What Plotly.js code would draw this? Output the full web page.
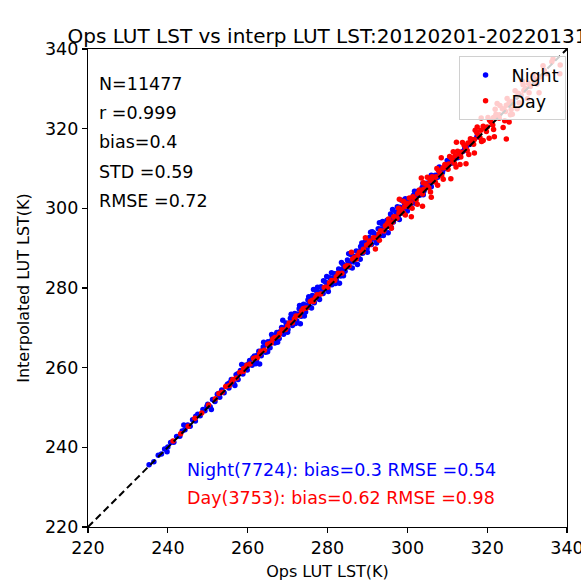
<!DOCTYPE html>
<html>
<head>
<meta charset="utf-8">
<script src="https://cdn.plot.ly/plotly-3.0.1.min.js"></script>
<style>html,body{margin:0;padding:0;background:#fff;}#chart{width:581px;height:581px;}</style>
</head>
<body>
<div id="chart"></div>
<script>
// ---------- data ----------
const nightX = [235.3,236.5,237.6,238.4,239.2,240.0,240.7,241.5,242.2,243.0,243.6,244.3,245.0,245.6,246.2,246.9,247.5,248.1,248.8,249.3,250.0,250.6,251.2,251.8,252.4,253.0,253.5,254.1,254.8,255.3,255.9,256.5,257.1,257.6,258.2,258.8,259.4,259.9,260.5,261.1,261.7,262.2,262.8,263.4,263.9,264.5,265.1,265.6,266.2,266.8,267.3,267.9,268.5,269.0,269.6,270.1,270.7,271.2,271.8,272.3,272.9,273.4,274.0,274.5,275.1,275.6,276.2,276.7,277.3,277.8,278.4,278.9,279.5,280.0,280.6,281.1,281.7,282.2,282.8,283.3,283.9,284.4,285.0,285.5,286.1,286.6,287.2,287.7,288.3,288.8,289.4,289.9,290.5,291.0,291.6,292.1,292.7,293.2,293.8,294.3,294.9,295.4,296.0,296.5,297.1,297.6,298.2,298.7,299.3,299.8,300.4,300.9,301.5,302.0,302.6,303.1,303.7,304.2,304.8,305.3,305.9,306.4,307.0,307.6,308.2,308.8,309.4,310.0,310.7,311.3,312.0,312.6,313.3,314.0,314.8,315.6,316.5,317.4,
  247.0,249.8,252.7,255.5,258.0,260.2,262.5,264.8,266.5,268.1,269.3,270.4,271.5,272.6,273.7,274.8,275.9,277.0,278.1,279.2,280.3,281.4,282.5,283.6,284.7,285.8,286.9,288.0,289.1,290.2,291.3,292.4,293.5,294.6,295.7,296.8,297.9,299.0,300.1,301.2,302.3,303.4,304.5,305.6,306.7,307.9,309.1,310.4,311.7,313.0,314.4,315.9,
  258.5,263.0,268.8,273.2,276.5,279.8,283.0,285.3,287.5,290.8,293.0,295.2,296.3,298.5,244.0,250.9,256.8,239.8,
  262.0,265.0,267.5,270.0,272.0,274.2,276.0,278.0,280.2,282.0,284.0,286.2,288.2,290.0,292.3,294.0,296.0,298.0,300.0,302.0,304.0,306.0,
  264.0,266.0,270.9,273.0,275.3,277.5,279.0,281.0,283.5,285.8,288.6,291.2,293.8,295.8,297.5,299.5,301.8,303.9,306.0,308.0,310.0,
  255.0,257.5,260.0,261.3,263.7,266.0,267.0,269.8,271.0,272.2,274.5,275.5,276.8,278.7,279.9,281.3,282.3,284.2,285.2,287.0,288.4,289.6,290.9,292.0,293.3,294.8,296.2,297.3,298.8,300.6,302.1,303.3];
const nightY = [235.6,236.4,238.0,238.3,239.6,240.1,241.2,241.3,242.7,242.8,244.1,244.4,245.6,245.3,246.9,246.6,248.3,247.9,249.5,249.2,250.8,250.2,252.0,251.5,253.3,252.6,254.4,253.7,255.6,254.9,257.0,256.1,258.2,257.0,259.3,258.4,260.6,259.4,261.8,260.6,262.9,261.8,264.1,263.0,265.2,263.9,266.5,265.0,267.7,266.2,268.8,267.3,270.1,268.4,271.2,269.6,272.4,270.6,273.6,271.8,274.8,272.9,275.9,274.0,277.0,275.2,278.1,276.3,279.2,277.5,280.3,278.6,281.5,279.7,282.6,280.8,283.6,282.0,284.8,283.0,285.9,284.2,287.0,285.3,288.2,286.5,289.3,287.6,290.4,288.7,291.6,289.9,292.7,290.9,293.8,292.1,294.9,293.2,296.0,294.3,297.0,295.5,298.1,296.6,299.1,297.7,300.3,298.8,301.3,300.0,302.3,301.1,303.2,302.2,304.3,303.3,305.2,304.4,306.3,305.6,307.2,306.7,308.3,307.8,309.4,309.0,310.5,310.2,311.6,311.4,312.9,312.7,314.1,314.3,315.6,316.0,317.2,317.9,
  247.8,250.3,253.5,256.2,258.6,261.0,263.2,265.8,267.0,269.0,270.0,271.2,272.0,273.5,274.5,275.4,276.9,277.8,279.0,280.1,281.0,282.4,283.3,284.6,285.6,286.5,287.9,288.8,290.2,291.1,292.3,293.3,294.6,295.5,296.8,297.6,298.9,299.8,301.0,302.1,303.1,304.3,305.2,306.5,307.4,308.6,309.8,311.0,312.4,313.6,315.1,316.6,
  260.8,260.9,271.9,271.0,279.6,282.9,281.2,288.6,285.9,294.0,296.4,293.9,299.7,302.0,245.6,249.5,255.5,238.9,
  261.0,264.0,266.4,268.9,271.1,273.0,275.0,277.1,279.1,281.1,283.1,285.0,287.2,289.0,291.3,293.2,295.1,297.2,299.3,301.3,303.4,305.4,
  266.4,268.3,273.4,275.6,277.8,280.2,281.8,283.8,286.4,288.5,291.3,294.1,296.7,298.6,300.4,302.4,304.3,306.3,308.3,310.4,312.0,
  255.9,258.5,260.5,262.5,264.3,266.8,268.2,270.5,272.3,273.2,275.7,276.4,277.9,279.5,281.0,282.0,283.6,285.0,286.4,287.8,289.7,290.4,292.2,292.8,294.8,295.6,297.6,298.1,300.2,301.5,303.3,304.0];

const dayX = [241.3,243.2,245.1,246.8,248.5,250.2,251.9,252.8,253.6,254.5,255.4,256.3,257.2,258.0,258.9,259.8,260.6,261.5,262.4,263.3,264.2,265.0,265.9,266.8,267.7,268.6,269.5,270.4,271.2,272.1,273.0,273.9,274.8,275.7,276.5,277.4,278.3,279.2,280.1,281.0,281.8,282.7,283.6,284.5,285.4,286.3,287.2,288.0,288.9,289.8,290.7,291.5,292.4,293.3,294.1,295.0,295.8,296.6,297.4,298.2,299.0,299.8,300.6,301.4,302.2,303.0,303.8,304.6,305.4,306.2,307.0,307.8,308.6,309.4,310.2,311.0,311.8,312.6,313.4,314.2,315.0,315.8,316.6,317.4,318.2,319.0,319.8,320.6,321.4,322.2,323.0,323.8,324.6,325.5,326.4,327.4,328.5,329.6,330.8,332.0,333.2,334.3,
  262.0,265.5,268.0,271.7,274.3,277.0,279.6,282.2,284.9,287.6,290.2,292.9,295.5,297.0,298.6,300.2,301.8,303.4,305.0,306.6,308.2,309.8,311.4,313.0,314.6,316.2,317.8,319.4,321.0,322.6,324.2,
  298.0,301.0,303.5,306.0,308.5,310.9,312.3,314.7,316.8,318.5,320.5,321.8,322.5,324.0,325.5,326.3,327.5,324.8,328.8,330.1,289.5,292.0,286.0,303.8,338.2,338.3,336.5,333.0,
  290.5,293.0,295.3,296.0,297.8,299.5,300.5,302.5,304.0,305.8,307.4,309.0,310.6,312.2,313.8,315.4,317.0,318.6,320.2,321.6,323.2,324.4,325.0,326.0,327.0,328.0,329.0,330.5,331.5,332.5,334.0,335.0,336.2,
  256.0,259.0,263.0,266.3,270.0,273.5,276.2,280.5,283.0,286.7,289.0,
  294.5,296.3,297.9,299.3,300.9,302.6,304.1,305.7,307.2,308.9,310.4,312.0,313.6,315.2,316.8,318.4,320.0,321.6,323.1,324.8,326.0,327.8,329.2,330.3,331.7,
  299.0,301.2,305.0,307.6,311.5,313.2,317.5,319.0,322.0,325.8];
const dayY = [241.6,243.4,245.3,247.3,248.6,250.6,252.2,253.5,253.8,255.3,255.5,257.0,257.4,258.8,259.1,260.6,260.9,262.3,262.5,264.1,264.4,265.9,266.2,267.6,267.9,269.5,269.6,271.2,271.3,273.0,273.1,274.8,275.0,276.6,276.6,278.3,278.5,280.1,280.2,281.9,281.9,283.7,283.7,285.4,285.5,287.2,287.3,289.0,289.1,290.8,290.9,292.6,292.6,294.4,294.3,296.2,295.9,297.9,297.5,299.7,298.9,301.3,300.4,302.9,302.1,304.6,303.6,306.2,305.1,307.9,306.6,309.5,308.2,311.0,309.8,312.7,311.3,314.3,312.9,315.9,314.5,317.5,316.1,319.0,317.7,320.6,319.3,322.1,320.9,323.6,322.6,325.0,324.3,326.5,326.2,328.0,328.4,330.1,330.6,332.5,333.0,334.6,
  262.5,266.0,268.6,272.2,274.9,277.6,280.2,282.8,285.6,288.2,290.9,293.6,296.1,297.8,299.3,300.9,302.5,304.1,305.6,307.3,308.9,310.4,312.0,313.7,315.2,316.9,318.4,320.1,321.6,323.2,324.9,
  302.3,297.9,307.6,302.8,312.7,307.4,316.6,311.2,313.9,322.7,317.6,318.0,326.3,320.3,321.7,323.6,325.0,317.4,331.9,327.5,292.6,289.8,289.0,300.5,333.8,336.0,337.5,329.0,
  291.8,292.0,297.3,295.0,300.0,298.3,302.6,301.0,306.4,304.1,310.0,307.3,313.0,310.4,316.5,313.5,319.6,316.8,322.8,319.8,325.8,322.0,327.6,324.8,329.5,326.5,331.0,329.0,333.5,331.2,335.8,333.8,336.8,
  256.4,259.8,263.4,267.2,270.4,274.2,276.9,281.3,283.6,287.6,289.7,
  295.6,296.6,298.8,300.4,301.4,303.7,304.8,306.9,307.9,310.1,311.1,313.2,314.1,316.4,317.3,319.6,320.4,322.8,323.5,325.9,326.8,328.9,329.6,331.4,332.0,
  301.8,300.0,307.8,305.8,314.2,311.0,320.4,317.0,324.9,323.5];

const oneToOne = [220, 340];
const tickValues = [220, 240, 260, 280, 300, 320, 340];
const statLines = ["N=11477", "r =0.999", "bias=0.4", "STD =0.59", "RMSE =0.72"];
const nightSummary = "Night(7724): bias=0.3 RMSE =0.54";
const daySummary = "Day(3753): bias=0.62 RMSE =0.98";
const titleText = "Ops LUT LST vs interp LUT LST:20120201-20220131";

// ---------- chart ----------
const FONT = "DejaVu Sans, Liberation Sans, sans-serif";
const traces = [
  {x: nightX, y: nightY, type: "scatter", mode: "markers", name: "Night",
   marker: {color: "#0000ff", size: 5.5}},
  {x: dayX, y: dayY, type: "scatter", mode: "markers", name: "Day",
   marker: {color: "#ff0000", size: 5.5}},
  {x: oneToOne, y: oneToOne, type: "scatter", mode: "lines", showlegend: false,
   line: {color: "#000", width: 2, dash: "7px,4px"}, hoverinfo: "skip"}
];

const statY = [0.927, 0.866, 0.805, 0.743, 0.682];
const annotations = statLines.map((t, i) => ({
  text: t, xref: "paper", yref: "paper", x: 0.019, y: statY[i],
  xanchor: "left", yanchor: "middle", showarrow: false,
  font: {family: FONT, size: 17.5, color: "#000"}
}));
annotations.push({text: nightSummary, xref: "paper", yref: "paper", x: 0.203, y: 0.119,
  xanchor: "left", yanchor: "middle", showarrow: false,
  font: {family: FONT, size: 17.5, color: "#0000ff"}});
annotations.push({text: daySummary, xref: "paper", yref: "paper", x: 0.203, y: 0.061,
  xanchor: "left", yanchor: "middle", showarrow: false,
  font: {family: FONT, size: 17.5, color: "#ff0000"}});

const axisCommon = {
  range: [220, 340], tickvals: tickValues, ticks: "outside", ticklen: 5, tickwidth: 1.2,
  tickcolor: "#000", showline: true, linecolor: "#000", linewidth: 1.2, mirror: true,
  showgrid: false, zeroline: false, tickfont: {family: FONT, size: 17.5, color: "#000"},
  automargin: false, ticklabeloverflow: "allow"
};

const layout = {
  width: 581, height: 581,
  margin: {l: 88, r: 14, t: 49, b: 54},
  paper_bgcolor: "#fff", plot_bgcolor: "#fff",
  font: {family: FONT, color: "#000"},
  title: {text: titleText, x: 0.5, xref: "paper", xanchor: "center",
          y: 1, yref: "paper", yanchor: "bottom", pad: {b: 6},
          font: {family: FONT, size: 20, color: "#000"}},
  xaxis: Object.assign({}, axisCommon, {title: {text: "Ops LUT LST(K)", standoff: 8,
          font: {family: FONT, size: 16, color: "#000"}}}),
  yaxis: Object.assign({}, axisCommon, {title: {text: "Interpolated LUT LST(K)", standoff: 11,
          font: {family: FONT, size: 16, color: "#000"}}}),
  legend: {x: 0.997, y: 0.985, xanchor: "right", yanchor: "top",
           bgcolor: "rgba(255,255,255,0.8)", bordercolor: "#d0d0d0", borderwidth: 1,
           font: {family: FONT, size: 17.5, color: "#000"}, itemwidth: 42, tracegroupgap: 0},
  showlegend: true,
  annotations: annotations
};

Plotly.newPlot("chart", traces, layout, {displayModeBar: false, staticPlot: true});
</script>
</body>
</html>
